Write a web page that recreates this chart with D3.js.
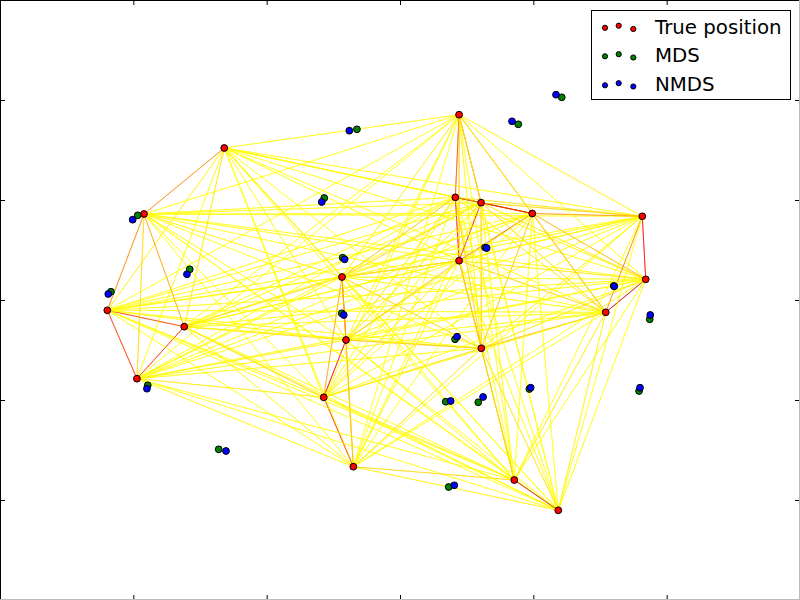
<!DOCTYPE html>
<html>
<head>
<meta charset="utf-8">
<script src="https://cdn.jsdelivr.net/npm/d3@7"></script>
<style>
html,body{margin:0;padding:0;background:#fff;}
svg{display:block;}
text{font-family:"DejaVu Sans",sans-serif;}
</style>
</head>
<body>
<div id="chart"></div>
<script>
// ---- data ----
const xTicks = [-2, -1, 0, 1, 2];
const yTicks = [-2, -1, 0, 1, 2];

const trueX = [-1.318, 0.443, -1.920, 0.415, 0.608, 0.992, 1.817, 0.443, -0.435, 1.843,
               -2.195, 1.543, -1.618, -0.405, 0.610, -1.973, -0.572, -0.350, 0.857, 1.187];
const trueY = [1.520, 1.853, 0.860, 1.027, 0.973, 0.865, 0.837, 0.393, 0.230, 0.207,
               -0.103, -0.123, -0.267, -0.400, -0.483, -0.787, -0.973, -1.667, -1.800, -2.103];

const mdsX = [-0.323, 1.213, 0.887, -0.568, -1.967, -1.577, -2.168, -0.430, 0.638, 1.603,
              1.873, -0.437, 0.413, 0.970, -1.892, 0.587, 0.343, 1.793, -1.360, 0.365];
const mdsY = [1.707, 2.027, 1.757, 1.020, 0.847, 0.307, 0.083, 0.423, 0.525, 0.140,
              -0.193, -0.133, -0.393, -0.890, -0.853, -1.023, -1.017, -0.910, -1.493, -1.870];

const nmdsX = [-0.380, 1.170, 0.840, -0.587, -2.005, -1.598, -2.188, -0.415, 0.650, 1.607,
               1.877, -0.422, 0.428, 0.980, -1.898, 0.623, 0.380, 1.800, -1.305, 0.407];
const nmdsY = [1.693, 2.053, 1.787, 0.980, 0.803, 0.257, 0.060, 0.407, 0.520, 0.137,
               -0.150, -0.150, -0.367, -0.877, -0.887, -0.970, -1.010, -0.877, -1.510, -1.853];

const seriesNames = ["True position", "MDS", "NMDS"];

// ---- layout ----
const W = 800, H = 600;
const svg = d3.select("#chart").append("svg").attr("width", W).attr("height", H);
const x = d3.scaleLinear().domain([-3, 3]).range([0, W]);
const y = d3.scaleLinear().domain([-3, 3]).range([H, 0]);

// hot colormap (matplotlib), reversed
function hot(v) {
  v = Math.max(0, Math.min(1, v));
  const r = Math.min(1, 0.0416 + v * (1 - 0.0416) / 0.365);
  const g = Math.max(0, Math.min(1, (v - 0.365) / 0.381));
  const b = Math.max(0, Math.min(1, (v - 0.746) / 0.254));
  return d3.rgb(r * 255, g * 255, b * 255).toString();
}
const hotR = v => hot(1 - v);

// ---- similarity lines (all pairs of true positions) ----
const segs = [];
for (let i = 0; i < trueX.length; i++) {
  for (let j = 0; j < trueX.length; j++) {
    if (i === j) continue;
    segs.push({i, j});
  }
}
const gLines = svg.append("g");
gLines.selectAll("line").data(segs).join("line")
  .attr("x1", d => x(trueX[d.i])).attr("y1", d => y(trueY[d.i]))
  .attr("x2", d => x(trueX[d.j])).attr("y2", d => y(trueY[d.j]))
  .attr("stroke", d => {
    const dx = x(trueX[d.i]) - x(trueX[d.j]);
    const dy = y(trueY[d.i]) - y(trueY[d.j]);
    const dist = Math.sqrt(dx * dx + dy * dy);
    return hotR(0.24 + 0.46 * Math.exp(-(dist - 52) / 60));
  })
  .attr("stroke-width", 0.6);

// ---- scatter ----
function scatter(xs, ys, color) {
  svg.append("g").selectAll("circle").data(xs.map((v, k) => [v, ys[k]])).join("circle")
    .attr("cx", d => x(d[0])).attr("cy", d => y(d[1]))
    .attr("r", 3.4)
    .attr("fill", color).attr("stroke", "#000").attr("stroke-width", 1);
}
scatter(trueX, trueY, "#ff0000");
scatter(mdsX, mdsY, "#008000");
scatter(nmdsX, nmdsY, "#0000ff");

// ---- axes (ticks inward, no labels) ----
function styleAxis(g) {
  g.select(".domain").remove();
  g.selectAll(".tick line").attr("stroke", "#000").attr("stroke-width", 1);
  g.selectAll(".tick text").remove();
}
svg.append("g").attr("transform", `translate(0,${H})`)
  .call(d3.axisBottom(x).tickValues(xTicks).tickSize(-5).tickFormat("")).call(styleAxis);
svg.append("g").attr("transform", "translate(0,0)")
  .call(d3.axisTop(x).tickValues(xTicks).tickSize(-5).tickFormat("")).call(styleAxis);
svg.append("g").attr("transform", "translate(0,0)")
  .call(d3.axisLeft(y).tickValues(yTicks).tickSize(-5).tickFormat("")).call(styleAxis);
svg.append("g").attr("transform", `translate(${W},0)`)
  .call(d3.axisRight(y).tickValues(yTicks).tickSize(-5).tickFormat("")).call(styleAxis);

// spines
svg.append("line").attr("x1", 0.5).attr("y1", 0).attr("x2", 0.5).attr("y2", H).attr("stroke", "#000");
svg.append("line").attr("x1", 0).attr("y1", 0.5).attr("x2", W).attr("y2", 0.5).attr("stroke", "#000");
svg.append("line").attr("x1", 0).attr("y1", H - 0.5).attr("x2", W).attr("y2", H - 0.5).attr("stroke", "#bbb");
svg.append("line").attr("x1", W - 0.5).attr("y1", 0).attr("x2", W - 0.5).attr("y2", H).attr("stroke", "#bbb");

// ---- legend ----
const legend = svg.append("g");
legend.append("rect").attr("x", 591.5).attr("y", 10.5).attr("width", 199).attr("height", 89)
  .attr("fill", "#fff").attr("stroke", "#000").attr("stroke-width", 1);
const legendColors = ["#ff0000", "#008000", "#0000ff"];
const rowY = [27.5, 56, 85];
const mkOff = [[605, 0.3], [618.7, -1.8], [633.3, 1.5]];
seriesNames.forEach((name, k) => {
  mkOff.forEach(m => {
    legend.append("circle").attr("cx", m[0]).attr("cy", rowY[k] + m[1]).attr("r", 2.6)
      .attr("fill", legendColors[k]).attr("stroke", "#000").attr("stroke-width", 1);
  });
  legend.append("text").attr("x", 655).attr("y", rowY[k] + 6)
    .attr("font-size", "19.8px").attr("fill", "#000").text(name);
});
</script>
</body>
</html>
